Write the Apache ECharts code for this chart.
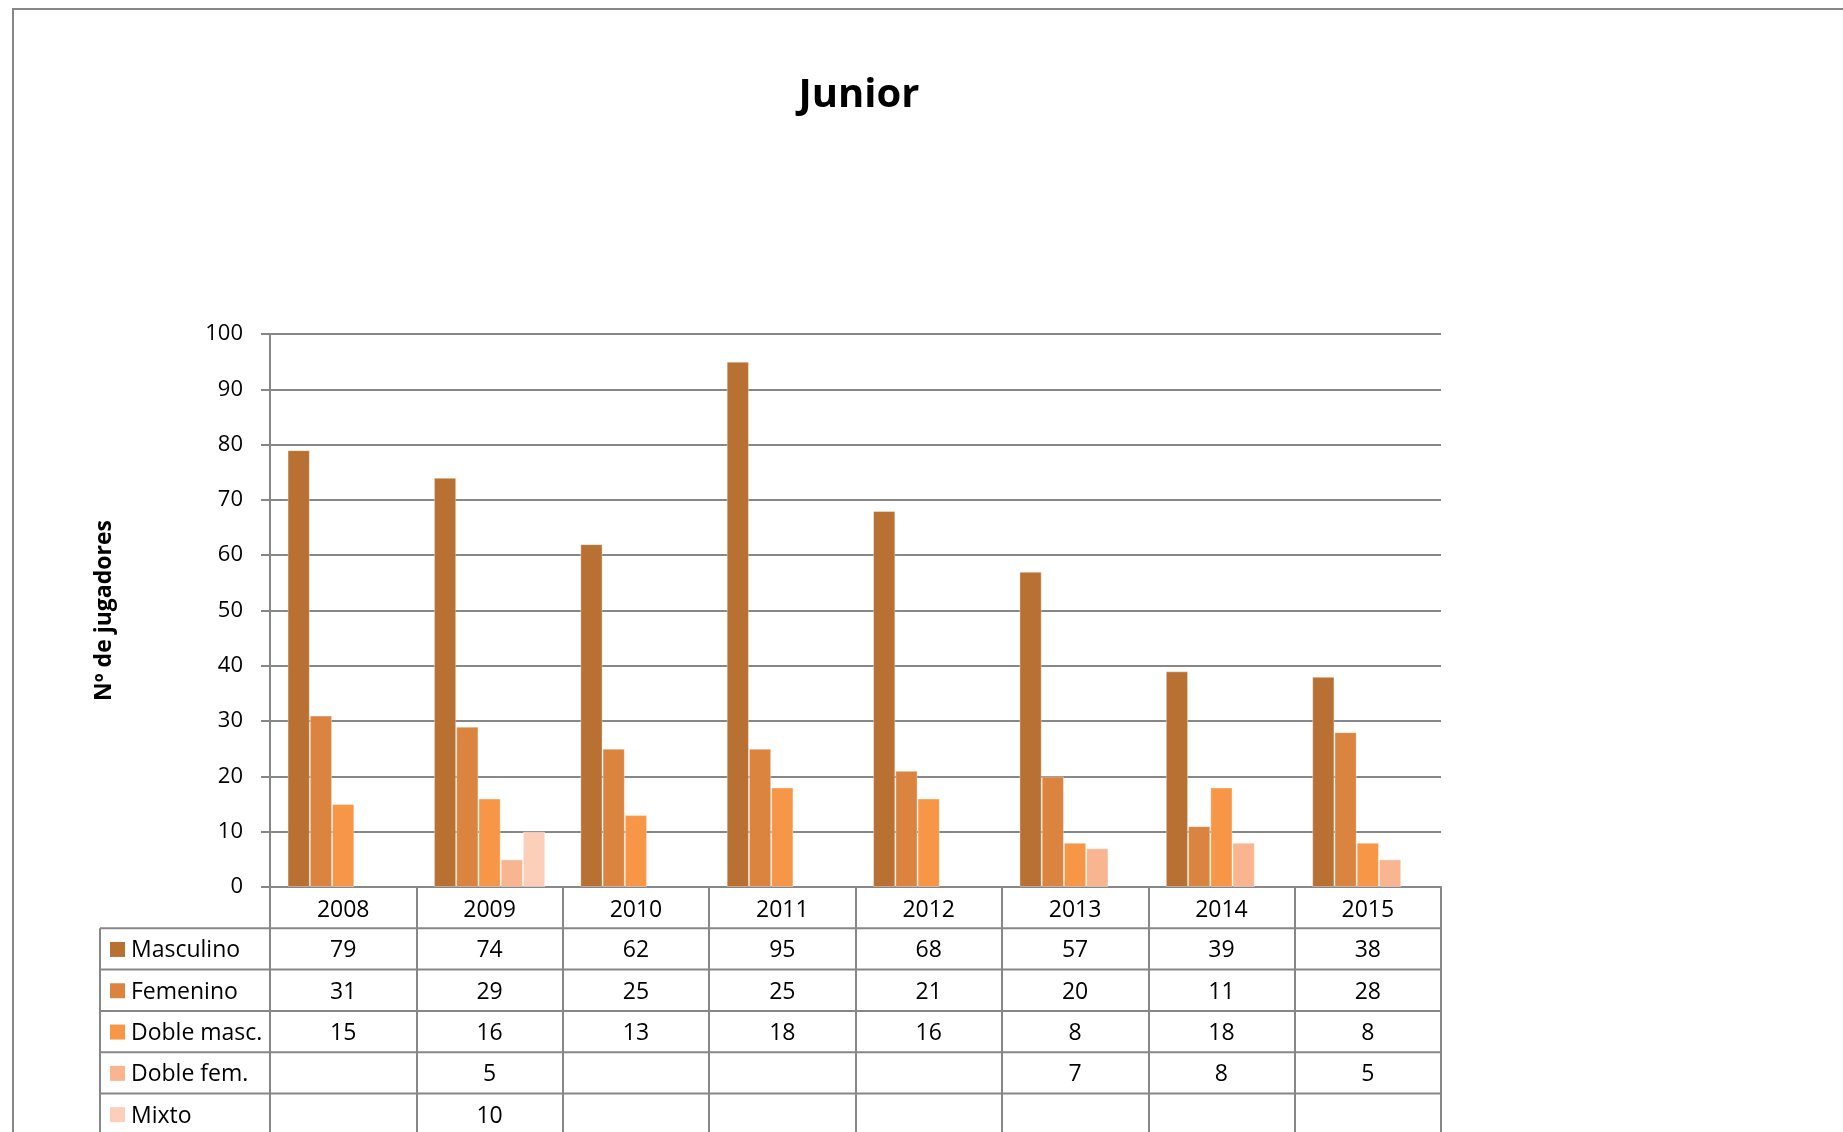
<!DOCTYPE html>
<html>
<head>
<meta charset="utf-8">
<script src="https://cdn.jsdelivr.net/npm/echarts@6/dist/echarts.min.js"></script>
<style>
html,body{margin:0;padding:0;background:#fff;}
#chart{width:1843px;height:1132px;}
</style>
</head>
<body>
<div id="chart"></div>
<script>
const years = ['2008', '2009', '2010', '2011', '2012', '2013', '2014', '2015'];
const masculino = [79, 74, 62, 95, 68, 57, 39, 38];
const femenino = [31, 29, 25, 25, 21, 20, 11, 28];
const dobleMasc = [15, 16, 13, 18, 16, 8, 18, 8];
const dobleFem = [null, 5, null, null, null, 7, 8, 5];
const mixto = [null, 10, null, null, null, null, null, null];
const seriesNames = ['Masculino', 'Femenino', 'Doble masc.', 'Doble fem.', 'Mixto'];
const yTicks = [0, 10, 20, 30, 40, 50, 60, 70, 80, 90, 100];

const seriesData = [masculino, femenino, dobleMasc, dobleFem, mixto];
const colors = ['#B97133', '#DB843F', '#F79646', '#F9B590', '#FBCFBA'];
const GRAY = '#878787';
const FONT = '"Open Sans", "Noto Sans", sans-serif';

const chart = echarts.init(document.getElementById('chart'), null, {renderer: 'canvas'});

const option = {
  animation: false,
  backgroundColor: '#ffffff',
  title: {
    text: 'Junior',
    left: 859,
    top: 76,
    padding: 0,
    textAlign: 'center',
    textStyle: {fontFamily: FONT, fontWeight: 'bold', fontSize: 40, color: '#000'}
  },
  grid: {left: 270, right: 402, top: 334, bottom: 245, containLabel: false},
  xAxis: {
    type: 'category',
    data: years,
    boundaryGap: true,
    axisLine: {show: true, lineStyle: {color: GRAY, width: 2}},
    axisTick: {show: true, inside: false, length: 250, alignWithLabel: false, lineStyle: {color: GRAY, width: 2}},
    axisLabel: {show: true, margin: 12, fontFamily: FONT, fontSize: 23, color: '#000', lineHeight: 23},
    splitLine: {show: false}
  },
  yAxis: {
    type: 'value',
    min: yTicks[0],
    max: yTicks[yTicks.length - 1],
    interval: 10,
    name: 'Nº de jugadores',
    nameLocation: 'middle',
    nameRotate: 90,
    nameGap: 154,
    nameTextStyle: {fontFamily: FONT, fontWeight: 'bold', fontSize: 23, color: '#000'},
    axisLine: {show: true, lineStyle: {color: GRAY, width: 2}},
    axisTick: {show: true, inside: false, length: 9, lineStyle: {color: GRAY, width: 2}},
    axisLabel: {margin: 27, fontFamily: FONT, fontSize: 22, color: '#000'},
    splitLine: {show: true, lineStyle: {color: GRAY, width: 2}}
  },
  series: seriesNames.map((n, i) => ({
    name: n,
    type: 'bar',
    data: seriesData[i],
    barGap: '0%',
    barCategoryGap: '24%',
    itemStyle: {color: colors[i], borderColor: 'rgba(255,255,255,0.35)', borderWidth: 1},
    z: 3
  }))
};
chart.setOption(option);

// Build the data table beneath the axis using the axis scale for column positions
const c0 = chart.convertToPixel({xAxisIndex: 0}, 0);
const c1 = chart.convertToPixel({xAxisIndex: 0}, 1);
const band = c1 - c0;
const yZero = chart.convertToPixel({yAxisIndex: 0}, 0);
const rightX = c0 + band * (years.length - 0.5);
const tableLeft = 100;
const headerH = 41.3;
const rowH = 41.3;
const bottomY = 1140;

const gfx = [];
// chart frame
gfx.push({type: 'polyline', shape: {points: [[13, 1140], [13, 9], [1850, 9]]}, style: {stroke: GRAY, lineWidth: 2, fill: null}, z: 10});
// left border of table
gfx.push({type: 'line', shape: {x1: tableLeft, y1: yZero + headerH, x2: tableLeft, y2: bottomY}, style: {stroke: GRAY, lineWidth: 2}, z: 10});
for (let r = 0; r <= seriesNames.length; r++) {
  const y = yZero + headerH + r * rowH;
  gfx.push({type: 'line', shape: {x1: tableLeft, y1: y, x2: rightX, y2: y}, style: {stroke: GRAY, lineWidth: 2}, z: 10});
}
seriesNames.forEach((n, r) => {
  const cy = yZero + headerH + (r + 0.5) * rowH + 2;
  gfx.push({type: 'rect', shape: {x: 110, y: cy - 9, width: 15, height: 15}, style: {fill: colors[r]}, z: 10});
  gfx.push({type: 'text', style: {text: n, x: 131, y: cy, font: '23px ' + FONT, fill: '#000', textAlign: 'left', textVerticalAlign: 'middle'}, z: 10});
  seriesData[r].forEach((v, k) => {
    if (v === null || v === undefined) return;
    const cx = chart.convertToPixel({xAxisIndex: 0}, k);
    gfx.push({type: 'text', style: {text: String(v), x: cx, y: cy, font: '23px ' + FONT, fill: '#000', textAlign: 'center', textVerticalAlign: 'middle'}, z: 10});
  });
});
chart.setOption({graphic: {elements: gfx}});
</script>
</body>
</html>
